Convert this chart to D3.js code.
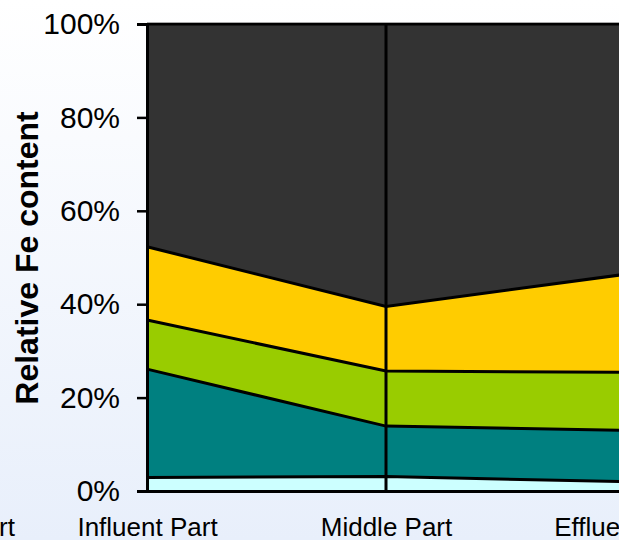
<!DOCTYPE html>
<html>
<head>
<meta charset="utf-8">
<script src="https://cdn.jsdelivr.net/npm/d3@7"></script>
<style>
  html, body { margin: 0; padding: 0; overflow: hidden; }
  svg { display: block; }
</style>
</head>
<body>
<svg id="chart" width="619" height="540"></svg>
<script>
// Sampling positions along the reactor
const categories = ["Influent Part", "Middle Part", "Effluent Part"];
// Fe fractions (% of total), stacked bottom to top
const fraction1 = [2.9, 3.1, 2.0];
const fraction2 = [23.2, 10.8, 11.0];
const fraction3 = [10.5, 11.8, 12.4];
const fraction4 = [15.7, 13.8, 21.0];
const fraction5 = [47.7, 60.5, 53.6];
const seriesKeys = ["f1", "f2", "f3", "f4", "f5"];
const seriesColors = ["#ccffff", "#008080", "#99cc00", "#ffcc00", "#333333"];
const yTicks = [0, 20, 40, 60, 80, 100];
const yTitle = "Relative Fe content";
const sideLabel = "Effluent Part";

const rows = categories.map((c, i) => ({
  cat: c,
  f1: fraction1[i], f2: fraction2[i], f3: fraction3[i], f4: fraction4[i], f5: fraction5[i]
}));

const svg = d3.select("#chart");
const W = 619, H = 540;

// background gradient
const defs = svg.append("defs");
const grad = defs.append("linearGradient").attr("id", "bg").attr("x1", 0).attr("y1", 0).attr("x2", 0).attr("y2", 1);
grad.append("stop").attr("offset", "0%").attr("stop-color", "#ffffff");
grad.append("stop").attr("offset", "100%").attr("stop-color", "#e8effb");
svg.append("rect").attr("width", W).attr("height", H).attr("fill", "url(#bg)");

const x = d3.scalePoint().domain(categories).range([147, 625]);
const y = d3.scaleLinear().domain([0, 100]).range([491, 24]);

const stacked = d3.stack().keys(seriesKeys)(rows);

const area = d3.area()
  .x(d => x(d.data.cat))
  .y0(d => y(d[0]))
  .y1(d => y(d[1]));

svg.append("g").selectAll("path")
  .data(stacked)
  .join("path")
  .attr("d", area)
  .attr("fill", (d, i) => seriesColors[i]);

// boundaries between fractions
const topLine = d3.line().x(d => x(d.data.cat)).y(d => y(d[1]));
svg.append("g").selectAll("path")
  .data(stacked)
  .join("path")
  .attr("d", topLine)
  .attr("fill", "none")
  .attr("stroke", "#000")
  .attr("stroke-width", 3);

// plot frame (light) above top edge
svg.append("line")
  .attr("x1", x(categories[0])).attr("x2", W)
  .attr("y1", y(100) - 1.5).attr("y2", y(100) - 1.5)
  .attr("stroke", "#aaaaaa").attr("stroke-width", 1);

// vertical divider at middle category
svg.append("line")
  .attr("x1", x(categories[1])).attr("x2", x(categories[1]))
  .attr("y1", y(100)).attr("y2", y(0))
  .attr("stroke", "#000").attr("stroke-width", 3);

// y axis
const yAxis = d3.axisLeft(y)
  .tickValues(yTicks)
  .tickSize(10)
  .tickPadding(17)
  .tickFormat(d => d + "%");
const gy = svg.append("g").attr("transform", `translate(${x(categories[0])},0)`).call(yAxis);
gy.select(".domain").attr("stroke", "#000").attr("stroke-width", 3);
gy.selectAll(".tick line").attr("stroke", "#000").attr("stroke-width", 2.5);
gy.selectAll(".tick text")
  .attr("font-family", "Liberation Sans, Arial, sans-serif")
  .attr("font-size", 30)
  .attr("fill", "#000");

// x axis
const xAxis = d3.axisBottom(x).tickSize(0).tickPadding(0);
const gx = svg.append("g").attr("transform", `translate(0,${y(0)})`).call(xAxis);
gx.select(".domain").attr("stroke", "#000").attr("stroke-width", 3);
gx.selectAll(".tick text")
  .attr("font-family", "Liberation Sans, Arial, sans-serif")
  .attr("font-size", 26)
  .attr("fill", "#000")
  .attr("dy", null)
  .attr("y", 45);

// neighbouring label partly in view at the left
svg.append("text")
  .attr("x", 15).attr("y", 536)
  .attr("text-anchor", "end")
  .attr("font-family", "Liberation Sans, Arial, sans-serif")
  .attr("font-size", 26)
  .text(sideLabel);

// y title
svg.append("text")
  .attr("transform", "translate(38,258) rotate(-90)")
  .attr("text-anchor", "middle")
  .attr("font-family", "Liberation Sans, Arial, sans-serif")
  .attr("font-weight", "bold")
  .attr("font-size", 32)
  .text(yTitle);
</script>
</body>
</html>
